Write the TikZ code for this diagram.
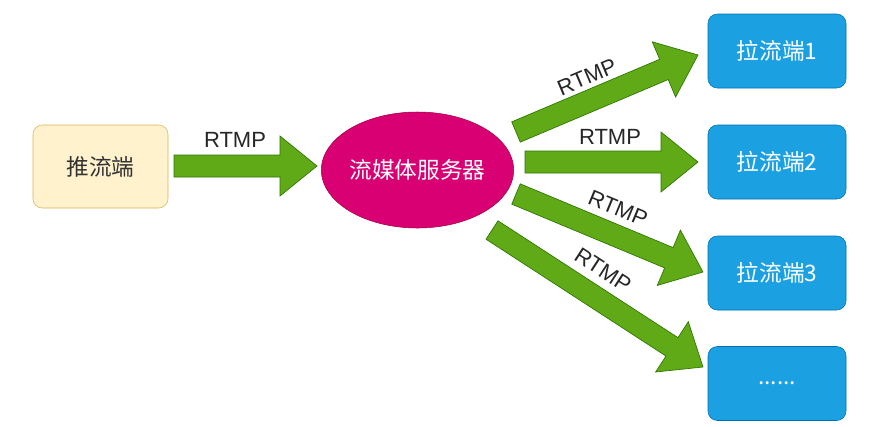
\documentclass[tikz,border=0pt]{standalone}
\usepackage{fontspec}
\setmainfont{Liberation Sans}
\newfontfamily\cjk{Noto Sans CJK SC}
\usetikzlibrary{calc,shapes.geometric}
\definecolor{gfill}{HTML}{60A917}
\definecolor{gline}{HTML}{2D7600}
\definecolor{yfill}{HTML}{FFF2CC}
\definecolor{yline}{HTML}{D6B656}
\definecolor{bfill}{HTML}{1BA1E2}
\definecolor{bline}{HTML}{006EAF}
\definecolor{mfill}{HTML}{D80073}
\definecolor{mline}{HTML}{A50040}
\tikzset{
  fatarr/.style={fill=gfill, draw=gline, line width=0.5pt, line join=miter},
  pushbox/.style={draw=yline, fill=yfill, rounded corners=7pt, minimum width=101.25pt, minimum height=62.25pt, text=black!80, font=\cjk\fontsize{17}{20}\selectfont},
  recvbox/.style={draw=bline, fill=bfill, rounded corners=7pt, minimum width=103.5pt, minimum height=55.5pt, text=white, font=\cjk\fontsize{17}{20}\selectfont},
  server/.style={ellipse, draw=mline, fill=mfill, minimum width=141.75pt, minimum height=87pt, inner sep=0pt, text=white, font=\cjk\fontsize{17}{20}\selectfont},
  lbl/.style={text=black!85, font=\fontsize{16.5}{19}\selectfont, inner sep=1pt}
}
\newcommand\fatarrow[2]{%
  \path let \p1=($(#2)-(#1)$), \n1={atan2(\y1,\x1)}, \n2={veclen(\x1,\y1)} in \pgfextra{\xdef\fa{\n1}\xdef\fl{\n2}};
  \draw[fatarr, shift={(#1)}, rotate=\fa] (0pt,-8.25pt) -- (\fl-27.75pt,-8.25pt) -- (\fl-27.75pt,-22.5pt) -- (\fl,0pt) -- (\fl-27.75pt,22.5pt) -- (\fl-27.75pt,8.25pt) -- (0pt,8.25pt) -- cycle;%
}
\begin{document}
\begin{tikzpicture}[x=0.75pt,y=-0.75pt]
\useasboundingbox (0,0) rectangle (869,426);
\node[pushbox] (push) at (100.5,166.5) {推流端};
\node[server] (srv) at (417.5,170) {流媒体服务器};
\node[recvbox] (r1) at (777,51) {拉流端1};
\node[recvbox] (r2) at (777,162) {拉流端2};
\node[recvbox] (r3) at (777,273) {拉流端3};
\node[recvbox] (r4) at (777,383.5) {......};
% arrow end points
\coordinate (a0s) at (174,166);
\coordinate (a0e) at (317,166);
\coordinate (a1s) at (516,132);
\coordinate (a1e) at (698,55);
\coordinate (a2s) at (525,162);
\coordinate (a2e) at (698,162);
\coordinate (a3s) at (516,194);
\coordinate (a3e) at (703,272);
\coordinate (a4s) at (492,230);
\coordinate (a4e) at (703,367);
\fatarrow{a0s}{a0e}
\fatarrow{a1s}{a1e}
\fatarrow{a2s}{a2e}
\fatarrow{a3s}{a3e}
\fatarrow{a4s}{a4e}
\node[lbl] (l0) at (235,140) {RTMP};
\node[lbl, rotate=22.9] (l1) at (587,77) {RTMP};
\node[lbl] (l2) at (610,137) {RTMP};
\node[lbl, rotate=-22.6] (l3) at (618,208) {RTMP};
\node[lbl, rotate=-33] (l4) at (603,270) {RTMP};
\end{tikzpicture}
\end{document}
